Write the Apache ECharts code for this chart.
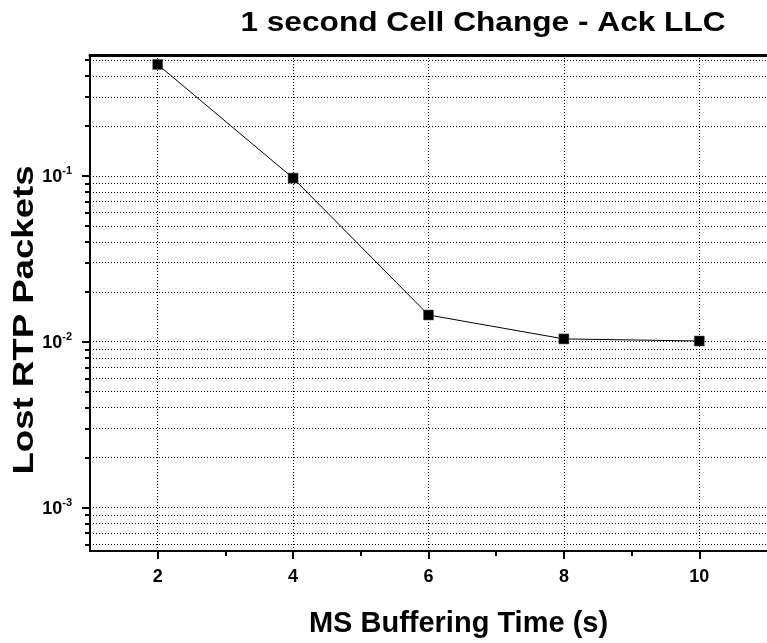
<!DOCTYPE html>
<html>
<head>
<meta charset="utf-8">
<script src="https://cdn.jsdelivr.net/npm/echarts@6/dist/echarts.min.js"></script>
<style>html,body{margin:0;padding:0;background:#fff;}#c{width:767px;height:643px;}</style>
</head>
<body>
<div id="c"></div>
<script>
const titleText = '1 second Cell Change - Ack LLC';
const xName = 'MS Buffering Time (s)';
const yName = 'Lost RTP Packets';
const bufferTimes = [2, 4, 6, 8, 10];
const lostPackets = [0.47, 0.097, 0.0145, 0.0104, 0.0101];
const xMajorTicks = [2, 4, 6, 8, 10];
const xMinorTicks = [3, 5, 7, 9];
const yMajorTicks = [0.001, 0.01, 0.1];
const yMinorTicks = [0.0006, 0.0007, 0.0008, 0.0009,
  0.002, 0.003, 0.004, 0.005, 0.006, 0.007, 0.008, 0.009,
  0.02, 0.03, 0.04, 0.05, 0.06, 0.07, 0.08, 0.09,
  0.2, 0.3, 0.4, 0.5];

const FONT = '"Liberation Sans", Arial, sans-serif';
const yMin = 0.000547, yMax = 0.536;
const dotted = {show: true, lineStyle: {color: '#000', type: [1, 2], width: 1}};

const chart = echarts.init(document.getElementById('c'), null, {renderer: 'canvas'});
chart.setOption({
  animation: false,
  backgroundColor: '#fff',
  graphic: [
    {
      type: 'text', x: 483, y: 23, scaleX: 1.13,
      style: {text: titleText, fontFamily: FONT, fontWeight: 'bold', fontSize: 28, fill: '#000', align: 'center', verticalAlign: 'middle'}
    },
    {
      type: 'text', x: 25, y: 320, rotation: Math.PI / 2, scaleX: 1.22,
      style: {text: yName, fontFamily: FONT, fontWeight: 'bold', fontSize: 30, fill: '#000', align: 'center', verticalAlign: 'middle'}
    }
  ],
  grid: {left: 90, top: 55, bottom: 90, right: -9, containLabel: false},
  xAxis: [
    {
      type: 'value', min: 1, max: 11, position: 'bottom',
      name: xName, nameLocation: 'middle', nameGap: 58,
      nameTextStyle: {fontFamily: FONT, fontWeight: 'bold', fontSize: 29, color: '#000', padding: [0, 0, 0, 60]},
      axisLine: {show: true, lineStyle: {color: '#000', width: 2}},
      axisTick: {show: true, customValues: xMajorTicks, length: 8, lineStyle: {color: '#000', width: 2}},
      axisLabel: {customValues: xMajorTicks, margin: 17, fontFamily: FONT, fontWeight: 'bold', fontSize: 18, color: '#000'},
      splitLine: dotted
    },
    {
      type: 'value', min: 1, max: 11, position: 'bottom',
      axisLine: {show: false},
      axisTick: {show: true, customValues: xMinorTicks, length: 5, lineStyle: {color: '#000', width: 2}},
      axisLabel: {show: false},
      splitLine: {show: false}
    },
    {
      type: 'value', min: 1, max: 11, position: 'top',
      axisLine: {show: true, lineStyle: {color: '#000', width: 3}},
      axisTick: {show: false}, axisLabel: {show: false}, splitLine: {show: false}
    }
  ],
  yAxis: [
    {
      type: 'log', logBase: 10, min: yMin, max: yMax, position: 'left',
      axisLine: {show: true, lineStyle: {color: '#000', width: 2}},
      axisTick: {show: true, customValues: yMajorTicks, length: 8, lineStyle: {color: '#000', width: 2}},
      axisLabel: {
        customValues: yMajorTicks, margin: 18,
        formatter: function (v) { return '{b|10}{s|' + Math.round(Math.log10(v)) + '}'; },
        rich: {
          b: {fontFamily: FONT, fontWeight: 'bold', fontSize: 18, color: '#000', lineHeight: 20, verticalAlign: 'bottom'},
          s: {fontFamily: FONT, fontWeight: 'bold', fontSize: 11, color: '#000', lineHeight: 20, verticalAlign: 'top', padding: [0, 0, 4, 0]}
        }
      },
      splitLine: dotted
    },
    {
      type: 'log', logBase: 10, min: yMin, max: yMax, position: 'left',
      axisLine: {show: false},
      axisTick: {show: true, customValues: yMinorTicks, length: 5, lineStyle: {color: '#000', width: 2}},
      axisLabel: {show: false},
      splitLine: dotted
    }
  ],
  series: [{
    type: 'line',
    xAxisIndex: 0, yAxisIndex: 0,
    data: bufferTimes.map((x, i) => [x, lostPackets[i]]),
    symbol: 'rect', symbolSize: 10,
    lineStyle: {color: '#000', width: 1},
    itemStyle: {color: '#000', borderColor: '#555', borderWidth: 0.5},
    z: 10
  }]
});
</script>
</body>
</html>
